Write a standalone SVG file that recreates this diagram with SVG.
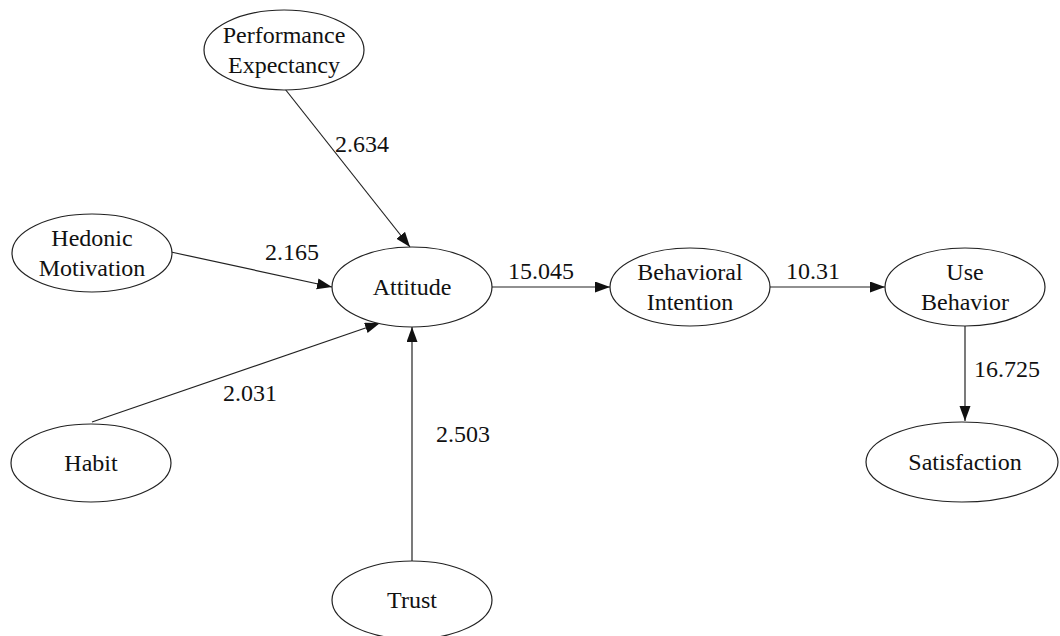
<svg xmlns="http://www.w3.org/2000/svg" width="1060" height="636" viewBox="0 0 1060 636">
<defs>
<style>
.node ellipse{fill:#fff;stroke:#222;stroke-width:1.2}
.node text,.lbl{font-family:"Liberation Serif","Times New Roman",serif;font-size:24px;fill:#111;text-anchor:middle}
.edge{stroke:#222;stroke-width:1.2;fill:none;marker-end:url(#arr)}
</style>
<marker id="arr" markerUnits="userSpaceOnUse" markerWidth="16" markerHeight="12" refX="15" refY="5.5" orient="auto">
<path d="M0,0 L15,5.5 L0,11 z" fill="#111"/>
</marker>
</defs>
<rect width="1060" height="636" fill="#fff"/>
<g id="connectors">
<line class="edge" x1="285" y1="89" x2="410" y2="247"/>
<line class="edge" x1="171" y1="252" x2="332" y2="287"/>
<line class="edge" x1="92" y1="422" x2="380" y2="323"/>
<line class="edge" x1="412" y1="561" x2="412" y2="327"/>
<line class="edge" x1="492" y1="287" x2="610" y2="287"/>
<line class="edge" x1="770" y1="287" x2="885" y2="287"/>
<line class="edge" x1="965" y1="326" x2="965" y2="421"/>
<text class="lbl" x="362" y="152">2.634</text>
<text class="lbl" x="292" y="260">2.165</text>
<text class="lbl" x="250" y="401">2.031</text>
<text class="lbl" x="463" y="442">2.503</text>
<text class="lbl" x="541" y="279">15.045</text>
<text class="lbl" x="813" y="279">10.31</text>
<text class="lbl" x="1007" y="377">16.725</text>
</g>
<g id="performance-expectancy" class="node">
<ellipse cx="284" cy="50" rx="80" ry="40"/>
<text x="284" y="43">Performance</text>
<text x="284" y="73">Expectancy</text>
</g>
<g id="hedonic-motivation" class="node">
<ellipse cx="92" cy="253" rx="80" ry="39"/>
<text x="92" y="246">Hedonic</text>
<text x="92" y="276">Motivation</text>
</g>
<g id="attitude" class="node">
<ellipse cx="412" cy="287" rx="80" ry="40"/>
<text x="412" y="295">Attitude</text>
</g>
<g id="habit" class="node">
<ellipse cx="91" cy="463" rx="80" ry="39"/>
<text x="91" y="471">Habit</text>
</g>
<g id="trust" class="node">
<ellipse cx="412" cy="600" rx="80" ry="39"/>
<text x="412" y="608">Trust</text>
</g>
<g id="behavioral-intention" class="node">
<ellipse cx="690" cy="287" rx="80" ry="39"/>
<text x="690" y="280">Behavioral</text>
<text x="690" y="310">Intention</text>
</g>
<g id="use-behavior" class="node">
<ellipse cx="965" cy="287" rx="80" ry="39"/>
<text x="965" y="280">Use</text>
<text x="965" y="310">Behavior</text>
</g>
<g id="satisfaction" class="node">
<ellipse cx="962" cy="462" rx="96" ry="40"/>
<text x="965" y="470">Satisfaction</text>
</g>
</svg>
